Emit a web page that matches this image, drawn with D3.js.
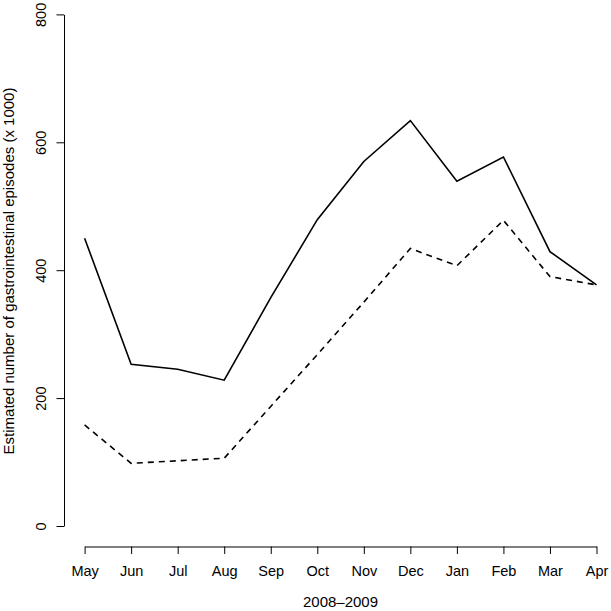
<!DOCTYPE html>
<html>
<head>
<meta charset="utf-8">
<script src="https://cdn.jsdelivr.net/npm/d3@7"></script>
<style>
  body { margin: 0; background: #fff; }
  text { font-family: "Liberation Sans", Arial, sans-serif; fill: #000; }
</style>
</head>
<body>
<div id="chart"></div>
<script>
// data
var months = ["May","Jun","Jul","Aug","Sep","Oct","Nov","Dec","Jan","Feb","Mar","Apr"];
var solidValues = [450, 253, 245, 228, 357, 479, 570, 634, 539, 577, 429, 377];
var dashedValues = [158, 98, 102, 106, 187, 268, 350, 434, 407, 478, 390, 377];
var yTicks = [0, 200, 400, 600, 800];
var xTitle = "2008\u20132009";
var yTitle = "Estimated number of gastrointestinal episodes (x 1000)";

var W = 611, H = 611;
var axisX = 64, axisY = 546.5;

var svg = d3.select("#chart").append("svg")
  .attr("width", W)
  .attr("height", H);

//Scales
var x = d3.scalePoint()
  .domain(months)
  .range([84.6, 596.5]);
var y = d3.scaleLinear()
  .domain([0, 800])
  .range([526, 14.4]);

//X axis
var gx = svg.append("g")
  .attr("transform", "translate(0," + axisY + ")")
  .call(d3.axisBottom(x).tickSizeInner(7.5).tickSizeOuter(0));
gx.selectAll("text")
  .attr("y", 29.3)
  .attr("dy", 0)
  .style("font-size", "14.5px");

//Y axis
var gy = svg.append("g")
  .attr("transform", "translate(" + axisX + ",0)")
  .call(d3.axisLeft(y).tickValues(yTicks).tickSizeInner(7.5).tickSizeOuter(0));
gy.selectAll("text")
  .attr("x", 0)
  .attr("y", -18)
  .attr("dy", 0)
  .attr("transform", "rotate(-90)")
  .style("text-anchor", "middle")
  .style("font-size", "14.5px");

svg.selectAll(".domain, .tick line").attr("stroke", "#000");
svg.selectAll(".tick text").attr("fill", "#000");

//Lines
var line = d3.line()
  .x(function(d, i) { return x(months[i]); })
  .y(function(d) { return y(d); });

svg.append("path")
  .datum(solidValues)
  .attr("fill", "none")
  .attr("stroke", "#000")
  .attr("stroke-width", 1.6)
  .attr("d", line);

svg.append("path")
  .datum(dashedValues)
  .attr("fill", "none")
  .attr("stroke", "#000")
  .attr("stroke-width", 1.6)
  .attr("stroke-dasharray", "6,5")
  .attr("d", line);

//Titles
svg.append("text")
  .attr("x", 340.5)
  .attr("y", 606.5)
  .style("text-anchor", "middle")
  .style("font-size", "15px")
  .text(xTitle);

svg.append("text")
  .attr("transform", "translate(13.5,271) rotate(-90)")
  .style("text-anchor", "middle")
  .style("font-size", "15px")
  .text(yTitle);
</script>
</body>
</html>
